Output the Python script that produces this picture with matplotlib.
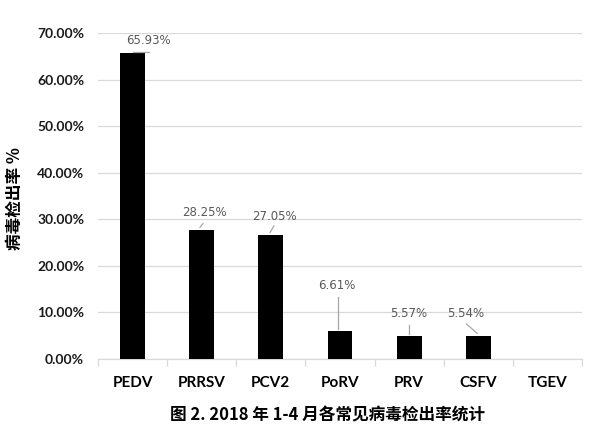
import matplotlib
matplotlib.use("Agg")
import matplotlib.pyplot as plt
import numpy as np

categories = ["PEDV", "PRRSV", "PCV2", "PoRV", "PRV", "CSFV", "TGEV"]
values = [65.7, 27.7, 26.7, 6.0, 4.95, 4.95, 0.0]
label_texts = ["65.93%", "28.25%", "27.05%", "6.61%", "5.57%", "5.54%", None]
yticks = [0, 10, 20, 30, 40, 50, 60, 70]

# label placement (data coords): text position, leader start, leader end
label_pos = [(0.223, 68.5), (1.033, 31.5), (2.045, 30.6), (2.96, 15.8), (3.988, 9.8), (4.82, 9.8)]
leaders = [((0.0, 66.0), (0.238, 66.0)),
           ((0.975, 28.3), (1.019, 29.1)),
           ((1.988, 27.2), (2.045, 28.6)),
           ((2.975, 6.5), (2.975, 13.4)),
           ((3.993, 5.4), (3.993, 7.4)),
           ((4.986, 5.5), (4.83, 7.5))]

fig = plt.figure(figsize=(5.92, 4.29), dpi=100)
ax = fig.add_axes([98/592, 1-359/429, (582-98)/592, (359-33.3)/429])

x = np.arange(len(categories))
ax.bar(x, values, width=0.36, color="black", zorder=3)
ax.set_xlim(-0.5, len(categories)-0.5)
ax.set_ylim(0, 70)

ax.set_yticks(yticks)
ax.set_yticklabels([f"{v:.2f}%" for v in yticks], fontfamily="Lato", fontweight="bold", fontsize=10, color="#1a1a1a")
ax.tick_params(axis="y", length=0, pad=10)
ax.grid(axis="y", color="#d9d9d9", linewidth=0.9, zorder=0)

ax.set_xticks(x)
ax.set_xticklabels(categories, fontfamily="Lato", fontweight="bold", fontsize=11, color="black")
ax.set_xticks(np.arange(len(categories)+1) - 0.5, minor=True)
ax.tick_params(axis="x", which="major", length=0, pad=12)
ax.tick_params(axis="x", which="minor", length=5, color="#d9d9d9", width=0.9)

for s in ["left", "right", "top"]:
    ax.spines[s].set_visible(False)
ax.spines["bottom"].set_color("#d9d9d9")
ax.spines["bottom"].set_linewidth(0.9)

for txt, pos, (p0, p1) in zip(label_texts, label_pos, leaders):
    if txt is None:
        continue
    ax.text(pos[0], pos[1], txt, ha="center", va="center", fontsize=8.5, color="#595959", family="DejaVu Sans")
    ax.plot([p0[0], p1[0]], [p0[1], p1[1]], color="#a6a6a6", linewidth=0.9, zorder=4)

fig.text(15/592, 1-199/429, "病毒检出率 %", rotation=90, ha="center", va="center",
         fontsize=12, fontweight="bold", family=["Noto Sans CJK SC", "DejaVu Sans"])
fig.text(327/592, 1-415/429, "图 2. 2018 年 1-4 月各常见病毒检出率统计", ha="center", va="center",
         fontsize=12, fontweight="bold", family=["Noto Sans CJK SC", "DejaVu Sans"])

fig.savefig("out.png", dpi=100)
